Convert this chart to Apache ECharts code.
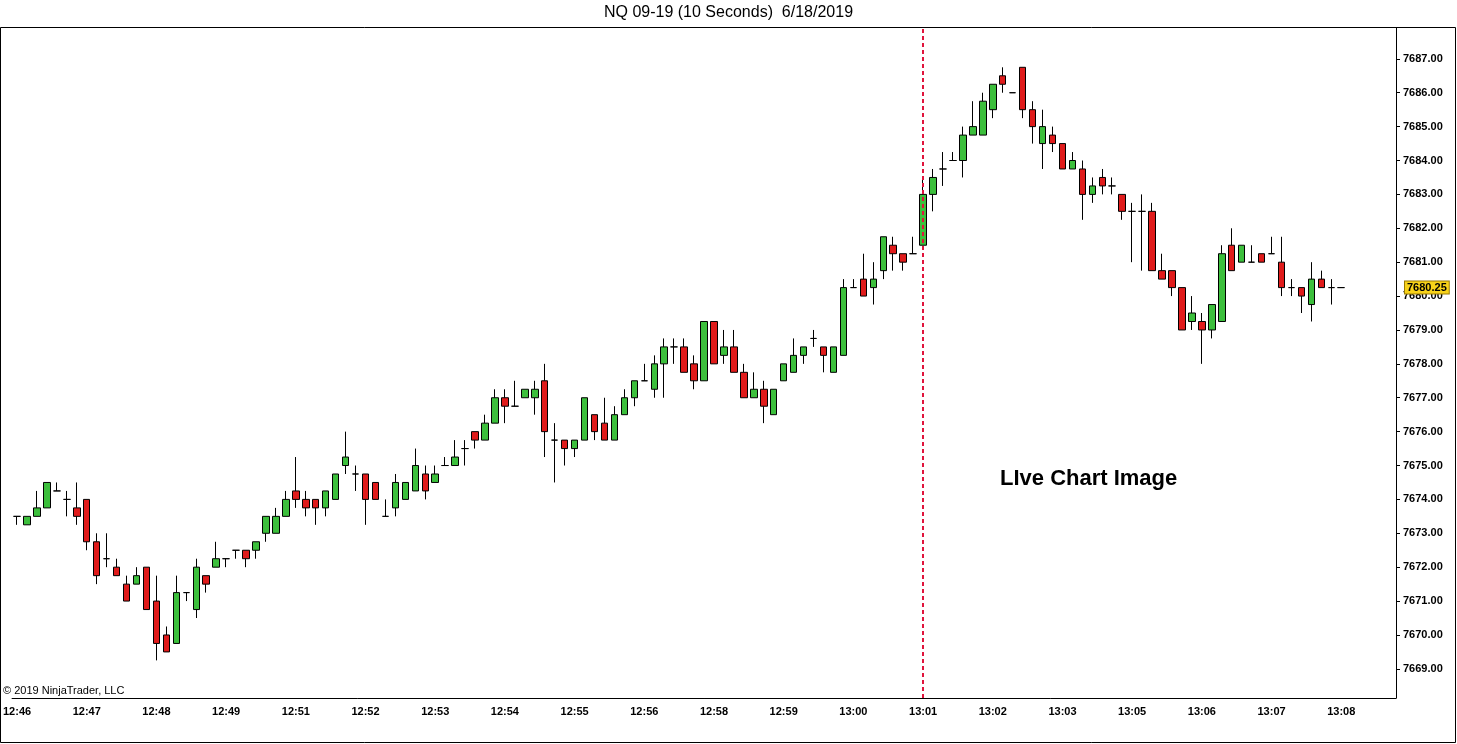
<!DOCTYPE html>
<html>
<head>
<meta charset="utf-8">
<title>NQ 09-19 (10 Seconds)</title>
<script src="https://cdn.jsdelivr.net/npm/echarts@6/dist/echarts.min.js"></script>
<style>
  html, body { margin: 0; padding: 0; background: #fff; }
  #chart { width: 1457px; height: 744px; }
</style>
</head>
<body>
<div id="chart"></div>
<script>
// 10 second bars
var startTime = '12:46:20';
var barSeconds = 10;

var opens = [
  7673.5, 7673.25, 7673.5, 7673.75, 7674.25, 7674, 7673.75, 7674, 7672.75, 7672.25,
  7672, 7671.5, 7671.5, 7672, 7671, 7670, 7669.75, 7671.25, 7670.75, 7671.75,
  7672, 7672.25, 7672.5, 7672.5, 7672.5, 7673, 7673, 7673.5, 7674.25, 7674,
  7674, 7673.75, 7674, 7675, 7674.75, 7674.75, 7674.5, 7673.5, 7673.75, 7674,
  7674.25, 7674.75, 7674.5, 7675, 7675, 7675.5, 7676, 7675.75, 7676.25, 7677,
  7676.75, 7677, 7677, 7677.5, 7675.75, 7675.75, 7675.5, 7675.75, 7676.5, 7676.25,
  7675.75, 7676.5, 7677, 7677.5, 7677.25, 7678, 7678.5, 7678.5, 7678, 7677.5,
  7679.25, 7678.25, 7678.5, 7677.75, 7677, 7677.25, 7676.5, 7677.5, 7677.75, 7678.25,
  7678.75, 7678.5, 7677.75, 7678.25, 7680.25, 7680.5, 7680.25, 7680.75, 7681.5, 7681.25,
  7681.25, 7681.5, 7683, 7683.75, 7684, 7684, 7684.75, 7684.75, 7685.5, 7686.5,
  7686, 7686.75, 7685.5, 7684.5, 7684.75, 7684.5, 7683.75, 7683.75, 7683, 7683.5,
  7683.25, 7683, 7682.5, 7682.5, 7682.5, 7680.75, 7680.75, 7680.25, 7679.25, 7679.25,
  7679, 7679.25, 7681.5, 7681, 7681, 7681.25, 7681.25, 7681, 7680.25, 7680.25,
  7679.75, 7680.5, 7680.25, 7680.25
];
var highs = [
  7673.5, 7673.5, 7674.25, 7674.5, 7674.5, 7674.25, 7674.5, 7674, 7673, 7673,
  7672.25, 7671.75, 7672, 7672, 7671.75, 7670.25, 7671.75, 7671.25, 7672.25, 7671.75,
  7672.75, 7672.25, 7672.5, 7672.5, 7672.75, 7673.5, 7673.75, 7674.25, 7675.25, 7674.25,
  7674, 7674.25, 7674.75, 7676, 7675, 7674.75, 7674.5, 7674, 7674.75, 7674.5,
  7675.5, 7675, 7675, 7675.25, 7675.75, 7675.75, 7676, 7676.5, 7677.25, 7677.25,
  7677.5, 7677.25, 7677.5, 7678, 7676.25, 7675.75, 7675.75, 7677, 7676.5, 7677,
  7676.75, 7677.25, 7677.5, 7678, 7678.25, 7678.75, 7678.75, 7678.75, 7678.25, 7679.25,
  7679.25, 7679, 7679, 7678, 7677.75, 7677.5, 7677.25, 7678, 7678.75, 7678.5,
  7679, 7678.5, 7678.5, 7680.5, 7680.5, 7681.25, 7681, 7681.75, 7681.75, 7681.25,
  7681.75, 7683.5, 7683.75, 7684.25, 7684.25, 7685, 7685.75, 7686, 7686.25, 7686.75,
  7686, 7686.75, 7685.75, 7685.5, 7685, 7684.5, 7684.25, 7684, 7683.5, 7683.75,
  7683.5, 7683, 7682.75, 7683, 7682.75, 7681.25, 7680.75, 7680.25, 7680, 7679.5,
  7679.75, 7681.5, 7682, 7681.5, 7681.5, 7681.25, 7681.75, 7681.75, 7680.5, 7680.25,
  7681, 7680.75, 7680.5, 7680.25
];
var lows = [
  7673.25, 7673.25, 7673.5, 7673.75, 7674.25, 7673.5, 7673.25, 7672.5, 7671.5, 7672,
  7671.75, 7671, 7671.5, 7670.75, 7669.25, 7669.5, 7669.75, 7671, 7670.5, 7671.25,
  7672, 7672, 7672.25, 7672, 7672.25, 7672.75, 7673, 7673.5, 7673.75, 7673.5,
  7673.25, 7673.5, 7674, 7674.75, 7674.25, 7673.25, 7674, 7673.5, 7673.5, 7674,
  7674.25, 7674, 7674.5, 7675, 7675, 7675, 7675.5, 7675.75, 7676.25, 7676.25,
  7676.75, 7677, 7676.5, 7675.25, 7674.5, 7675, 7675.25, 7675.75, 7675.75, 7675.75,
  7675.75, 7676.5, 7676.75, 7677.5, 7677, 7677, 7678, 7677.75, 7677.25, 7677.5,
  7678, 7678, 7677.75, 7677, 7677, 7676.25, 7676.5, 7677.5, 7677.75, 7678,
  7678.5, 7677.75, 7677.75, 7678.25, 7680.25, 7680, 7679.75, 7680.5, 7680.75, 7680.75,
  7681.25, 7681.5, 7682.5, 7683.25, 7684, 7683.5, 7684.75, 7684.75, 7685.25, 7686,
  7686, 7685.25, 7684.5, 7683.75, 7684.25, 7683.75, 7683.75, 7682.25, 7682.75, 7683,
  7683, 7682.25, 7681, 7680.75, 7680.75, 7680.5, 7680, 7679, 7679, 7678,
  7678.75, 7679.25, 7680.75, 7681, 7681, 7681, 7681.25, 7680, 7680, 7679.5,
  7679.25, 7680.25, 7679.75, 7680.25
];
var closes = [
  7673.5, 7673.5, 7673.75, 7674.5, 7674.25, 7674, 7673.5, 7672.75, 7671.75, 7672.25,
  7671.75, 7671, 7671.75, 7670.75, 7669.75, 7669.5, 7671.25, 7671.25, 7672, 7671.5,
  7672.25, 7672.25, 7672.5, 7672.25, 7672.75, 7673.5, 7673.5, 7674, 7674, 7673.75,
  7673.75, 7674.25, 7674.75, 7675.25, 7674.75, 7674, 7674, 7673.5, 7674.5, 7674.5,
  7675, 7674.25, 7674.75, 7675, 7675.25, 7675.5, 7675.75, 7676.25, 7677, 7676.75,
  7676.75, 7677.25, 7677.25, 7676, 7675.75, 7675.5, 7675.75, 7677, 7676, 7675.75,
  7676.5, 7677, 7677.5, 7677.5, 7678, 7678.5, 7678.5, 7677.75, 7677.5, 7679.25,
  7678, 7678.5, 7677.75, 7677, 7677.25, 7676.75, 7677.25, 7678, 7678.25, 7678.5,
  7678.75, 7678.25, 7678.5, 7680.25, 7680.25, 7680, 7680.5, 7681.75, 7681.25, 7681,
  7681.25, 7683, 7683.5, 7683.75, 7684, 7684.75, 7685, 7685.75, 7686.25, 7686.25,
  7686, 7685.5, 7685, 7685, 7684.5, 7683.75, 7684, 7683, 7683.25, 7683.25,
  7683.25, 7682.5, 7682.5, 7682.5, 7680.75, 7680.5, 7680.25, 7679, 7679.5, 7679,
  7679.75, 7681.25, 7680.75, 7681.5, 7681, 7681, 7681.25, 7680.25, 7680.25, 7680,
  7680.5, 7680.25, 7680.25, 7680.25
];

var liveIndex = 91;          // bar where the red dashed line sits (13:01)
var lastPrice = 7680.25;
var emptyBars = 5;           // free room right of the last bar

// category labels: bar times
var categories = [];
var t0 = startTime.split(':').map(Number);
var s0 = t0[0] * 3600 + t0[1] * 60 + t0[2];
for (var i = 0; i < opens.length + emptyBars; i++) {
  var s = s0 + i * barSeconds;
  var hh = Math.floor(s / 3600), mm = Math.floor(s / 60) % 60, ss = s % 60;
  categories.push(hh + ':' + (mm < 10 ? '0' : '') + mm + ':' + (ss < 10 ? '0' : '') + ss);
}

var ohlc = opens.map(function (o, i) {
  return [o, closes[i], lows[i], highs[i]];
});

var font = 'Liberation Sans, Arial, sans-serif';
var myChart = echarts.init(document.getElementById('chart'));

var option = {
  animation: false,
  backgroundColor: '#fff',
  title: [{
    text: 'NQ 09-19 (10 Seconds)  6/18/2019',
    left: 'center', top: 5, padding: 0,
    textStyle: { fontFamily: font, fontSize: 16, fontWeight: 'normal', color: '#000' }
  }, {
    text: '\u00A9 2019 NinjaTrader, LLC',
    left: 3, top: 685, padding: 0,
    textStyle: { fontFamily: font, fontSize: 11, fontWeight: 'normal', color: '#000' }
  }, {
    text: 'LIve Chart Image',
    left: 1000, top: 468, padding: 0,
    textStyle: { fontFamily: font, fontSize: 22, fontWeight: 'bold', color: '#000' }
  }],
  graphic: [{
    type: 'rect',
    silent: true,
    shape: { x: 0.5, y: 27.5, width: 1455, height: 715 },
    style: { fill: null, stroke: '#000', lineWidth: 1 }
  }],
  grid: { left: 8, right: 61, top: 28, bottom: 46 },
  xAxis: {
    type: 'category',
    data: categories,
    boundaryGap: true,
    axisLine: { lineStyle: { color: '#000', width: 1 } },
    axisTick: { alignWithLabel: true, interval: 6, length: 5, lineStyle: { color: '#000' } },
    axisLabel: {
      interval: 6,
      margin: 8,
      color: '#000',
      fontFamily: font,
      fontSize: 11,
      fontWeight: 'bold',
      formatter: function (v) { return v.slice(0, 5); }
    },
    splitLine: { show: false }
  },
  yAxis: {
    type: 'value',
    position: 'right',
    min: 7668.14,
    max: 7687.91,
    minInterval: 1,
    maxInterval: 1,
    splitNumber: 19,
    scale: true,
    axisLine: { show: true, lineStyle: { color: '#000', width: 1 } },
    axisTick: { show: true, length: 4, lineStyle: { color: '#000' } },
    axisLabel: {
      showMinLabel: false,
      showMaxLabel: false,
      margin: 7,
      color: '#000',
      fontFamily: font,
      fontSize: 11,
      fontWeight: 'bold',
      formatter: function (v) { return v.toFixed(2); }
    },
    splitLine: { show: false }
  },
  series: [{
    type: 'candlestick',
    data: ohlc,
    barWidth: 7,
    itemStyle: {
      color: '#3cbf3c',
      color0: '#e01b1b',
      borderColor: '#000',
      borderColor0: '#000',
      borderColorDoji: '#000',
      borderWidth: 1
    },
    markLine: {
      silent: true,
      symbol: ['none', 'none'],
      animation: false,
      data: [
        {
          xAxis: categories[liveIndex],
          lineStyle: { color: '#e0143c', type: [4, 3], width: 2 },
          label: { show: false }
        },
        {
          yAxis: lastPrice,
          lineStyle: { color: 'rgba(0,0,0,0)', width: 1, type: 'solid' },
          label: {
            show: true,
            position: 'end',
            distance: 9,
            formatter: function () { return lastPrice.toFixed(2); },
            color: '#000',
            fontFamily: font,
            fontSize: 11,
            fontWeight: 'bold',
            backgroundColor: '#f7d21a',
            borderColor: '#9a7a00',
            borderWidth: 1,
            padding: [1, 2, 0, 2]
          }
        }
      ]
    }
  }]
};

myChart.setOption(option);
</script>
</body>
</html>
